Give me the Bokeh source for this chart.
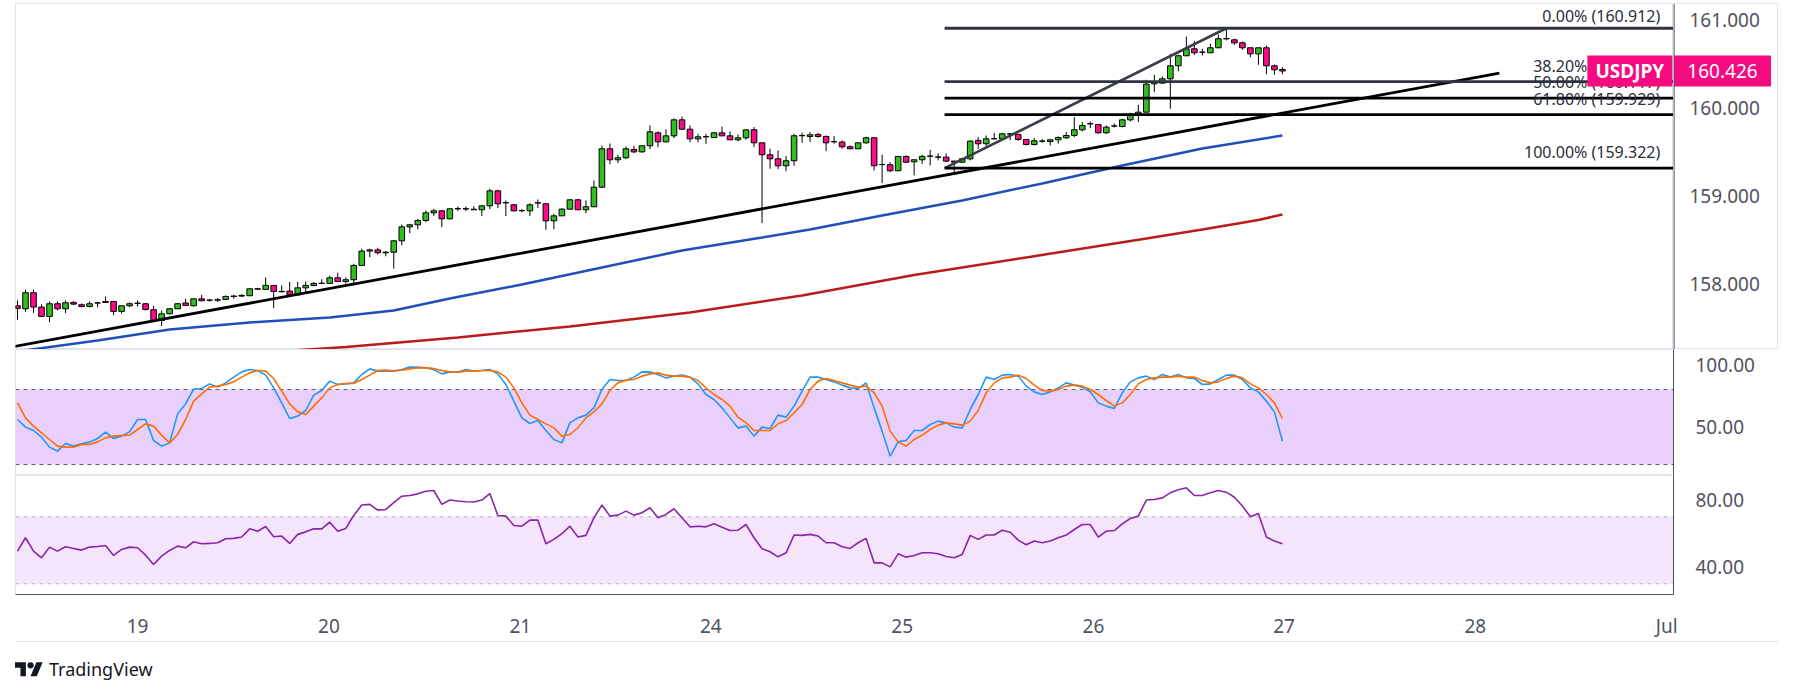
import numpy as np
from bokeh.plotting import figure
from bokeh.models import (Range1d, FixedTicker, NumeralTickFormatter, BoxAnnotation,
                          Span, Div, ColumnDataSource)
from bokeh.layouts import column, row
from bokeh.embed import file_html
from bokeh.resources import INLINE
from bokeh.core.properties import value

FONT = "Noto Sans"

# ---------------- data (hourly bars, USDJPY) ----------------
opens = [157.758, 157.724, 157.906, 157.743, 157.637, 157.781, 157.724, 157.796, 157.770, 157.750,
         157.790, 157.807, 157.807, 157.694, 157.758, 157.785, 157.781, 157.713, 157.591, 157.667,
         157.724, 157.789, 157.758, 157.837, 157.822, 157.822, 157.830, 157.864, 157.868, 157.872,
         157.951, 157.944, 157.989, 157.921, 157.925, 157.883, 157.962, 157.989, 158.012, 158.012,
         158.076, 158.034, 158.054, 158.216, 158.380, 158.393, 158.360, 158.367, 158.496, 158.655,
         158.678, 158.727, 158.814, 158.837, 158.746, 158.860, 158.860, 158.855, 158.849, 158.894,
         159.064, 158.930, 158.905, 158.840, 158.837, 158.928, 158.917, 158.723, 158.780, 158.856,
         158.962, 158.849, 158.883, 159.106, 159.542, 159.417, 159.440, 159.534, 159.507, 159.576,
         159.723, 159.621, 159.689, 159.871, 159.765, 159.655, 159.678, 159.670, 159.723, 159.689,
         159.644, 159.667, 159.758, 159.610, 159.474, 159.428, 159.349, 159.406, 159.690, 159.682,
         159.705, 159.682, 159.622, 159.618, 159.565, 159.542, 159.610, 159.667, 159.364, 159.360,
         159.292, 159.455, 159.394, 159.417, 159.458, 159.447, 159.447, 159.402, 159.390, 159.428,
         159.637, 159.599, 159.655, 159.655, 159.712, 159.705, 159.648, 159.591, 159.630, 159.625,
         159.644, 159.667, 159.693, 159.758, 159.826, 159.818, 159.724, 159.800, 159.795, 159.871,
         159.928, 159.958, 160.280, 160.288, 160.337, 160.485, 160.599, 160.678, 160.640, 160.633,
         160.690, 160.792, 160.780, 160.746, 160.690, 160.621, 160.690, 160.485, 160.443]
highs = [157.818, 157.940, 157.940, 157.773, 157.807, 157.807, 157.818, 157.810, 157.784, 157.807,
         157.800, 157.864, 157.810, 157.760, 157.796, 157.818, 157.790, 157.758, 157.705, 157.730,
         157.790, 157.837, 157.840, 157.883, 157.830, 157.845, 157.875, 157.883, 157.890, 157.955,
         157.960, 158.080, 157.995, 157.990, 158.030, 158.030, 158.035, 158.027, 158.060, 158.100,
         158.133, 158.080, 158.235, 158.406, 158.406, 158.417, 158.380, 158.500, 158.682, 158.689,
         158.746, 158.841, 158.860, 158.848, 158.864, 158.886, 158.886, 158.890, 158.898, 159.087,
         159.076, 158.955, 158.917, 158.856, 158.924, 158.966, 158.917, 158.803, 158.867, 158.970,
         158.973, 158.955, 159.182, 159.579, 159.602, 159.473, 159.568, 159.576, 159.580, 159.807,
         159.739, 159.761, 159.886, 159.909, 159.807, 159.712, 159.712, 159.735, 159.795, 159.739,
         159.705, 159.760, 159.788, 159.610, 159.542, 159.523, 159.459, 159.709, 159.724, 159.731,
         159.724, 159.693, 159.686, 159.636, 159.580, 159.613, 159.678, 159.667, 159.474, 159.390,
         159.455, 159.466, 159.417, 159.474, 159.530, 159.490, 159.490, 159.405, 159.436, 159.637,
         159.674, 159.693, 159.724, 159.724, 159.720, 159.712, 159.648, 159.663, 159.652, 159.648,
         159.682, 159.731, 159.902, 159.845, 159.852, 159.818, 159.807, 159.830, 159.883, 159.951,
         160.042, 160.326, 160.383, 160.364, 160.621, 160.610, 160.818, 160.769, 160.678, 160.735,
         160.841, 160.905, 160.792, 160.761, 160.690, 160.690, 160.716, 160.500, 160.470]
lows = [157.599, 157.690, 157.678, 157.630, 157.572, 157.705, 157.675, 157.765, 157.740, 157.740,
        157.740, 157.790, 157.652, 157.667, 157.743, 157.750, 157.705, 157.580, 157.527, 157.660,
        157.720, 157.755, 157.750, 157.810, 157.805, 157.800, 157.825, 157.837, 157.860, 157.868,
        157.940, 157.940, 157.731, 157.910, 157.880, 157.875, 157.914, 157.985, 158.008, 158.010,
        158.030, 158.010, 157.990, 158.210, 158.310, 158.340, 158.320, 158.180, 158.443, 158.583,
        158.625, 158.708, 158.777, 158.652, 158.740, 158.833, 158.833, 158.849, 158.777, 158.856,
        158.867, 158.777, 158.830, 158.820, 158.777, 158.867, 158.621, 158.629, 158.780, 158.852,
        158.845, 158.810, 158.880, 159.095, 159.367, 159.379, 159.424, 159.492, 159.500, 159.538,
        159.560, 159.615, 159.663, 159.757, 159.617, 159.617, 159.598, 159.667, 159.685, 159.640,
        159.628, 159.644, 159.561, 158.697, 159.315, 159.311, 159.288, 159.349, 159.610, 159.617,
        159.667, 159.515, 159.600, 159.542, 159.542, 159.540, 159.600, 159.296, 159.152, 159.277,
        159.288, 159.379, 159.239, 159.371, 159.353, 159.410, 159.390, 159.258, 159.380, 159.410,
        159.542, 159.561, 159.650, 159.655, 159.640, 159.633, 159.580, 159.580, 159.610, 159.580,
        159.600, 159.655, 159.674, 159.739, 159.777, 159.712, 159.712, 159.784, 159.784, 159.852,
        159.845, 159.955, 160.186, 160.285, 159.996, 160.424, 160.595, 160.610, 160.602, 160.630,
        160.685, 160.773, 160.723, 160.667, 160.583, 160.496, 160.390, 160.383, 160.390]
closes = [157.728, 157.906, 157.743, 157.637, 157.781, 157.724, 157.792, 157.777, 157.750, 157.781,
          157.790, 157.796, 157.694, 157.758, 157.781, 157.787, 157.716, 157.591, 157.667, 157.724,
          157.781, 157.762, 157.837, 157.815, 157.822, 157.826, 157.864, 157.868, 157.875, 157.951,
          157.947, 157.989, 157.921, 157.917, 157.883, 157.962, 157.989, 158.012, 158.014, 158.076,
          158.034, 158.054, 158.216, 158.379, 158.393, 158.360, 158.367, 158.496, 158.655, 158.678,
          158.727, 158.814, 158.837, 158.746, 158.860, 158.862, 158.858, 158.849, 158.894, 159.064,
          158.917, 158.928, 158.837, 158.838, 158.905, 158.926, 158.723, 158.780, 158.856, 158.962,
          158.849, 158.883, 159.106, 159.542, 159.417, 159.440, 159.542, 159.507, 159.576, 159.735,
          159.621, 159.689, 159.871, 159.765, 159.655, 159.678, 159.680, 159.723, 159.689, 159.644,
          159.667, 159.757, 159.610, 159.474, 159.428, 159.349, 159.406, 159.690, 159.693, 159.701,
          159.682, 159.610, 159.622, 159.565, 159.542, 159.610, 159.667, 159.349, 159.362, 159.292,
          159.455, 159.390, 159.417, 159.455, 159.459, 159.449, 159.402, 159.390, 159.428, 159.629,
          159.599, 159.655, 159.657, 159.712, 159.710, 159.648, 159.591, 159.633, 159.628, 159.644,
          159.670, 159.693, 159.758, 159.807, 159.826, 159.724, 159.788, 159.802, 159.871, 159.932,
          159.958, 160.277, 160.296, 160.337, 160.485, 160.599, 160.678, 160.633, 160.640, 160.690,
          160.792, 160.794, 160.746, 160.690, 160.621, 160.690, 160.485, 160.440, 160.426]

stoch_k = [56, 49.9, 47.2, 41.9, 33.9, 30.7, 36.8, 34.7, 36.5, 37.9,
           40.8, 45.9, 40.8, 42.7, 46.1, 56, 56, 39.2, 34.7, 37.3,
           60.5, 68.5, 80.3, 80.8, 84.5, 81.9, 85.3, 89.9, 94.1, 96,
           95.2, 91.5, 81.3, 69.3, 56.8, 58.7, 63.2, 75.5, 79.2, 86.7,
           84, 84.5, 85.3, 92, 96.5, 94.7, 94.7, 94.7, 96, 97.9,
           97.9, 97.3, 96, 92.5, 94.1, 93.9, 96, 94.7, 95.2, 96,
           92.5, 84, 70.7, 57.3, 52.8, 55.2, 47.2, 40, 37.3, 53.3,
           57.3, 59.5, 65.3, 80, 88, 87.2, 87.2, 89.9, 94.1, 93.9,
           92, 89.3, 90.7, 91.5, 89.9, 84.5, 76, 72, 65.3, 57.3,
           49.3, 50.7, 42.7, 49.9, 48.8, 59.5, 57.9, 66.7, 78.7, 89.9,
           89.9, 88, 86.1, 83.5, 81.3, 80.8, 85.3, 65.3, 46.7, 26.7,
           38.1, 39.2, 47.2, 47.2, 52, 54.7, 53.3, 49.9, 49.3, 64,
           76, 89.9, 88, 91.5, 92, 90.7, 82.7, 78.1, 76, 78.1,
           81.3, 85.3, 83.5, 81.9, 78.1, 69.3, 66.7, 64.8, 77.3, 86.1,
           89.3, 90.7, 88, 92, 89.9, 92, 89.3, 88.8, 84, 84.5,
           88, 91.5, 91.5, 88, 81.3, 78.1, 70.7, 62.1, 38.7]
stoch_d = [69.3, 57.3, 50.7, 45.3, 40, 34.7, 33.9, 33.9, 36, 36,
           38.1, 41.3, 42.7, 43.2, 43.5, 48, 52.5, 50.7, 43.5, 37.3,
           44, 56, 70.7, 76.5, 81.9, 82.7, 84, 86.1, 89.9, 93.3,
           95.2, 94.7, 88.8, 78.7, 68.5, 62.1, 60, 66.7, 73.3, 81.3,
           84, 84.8, 84.8, 88, 91.5, 95.2, 95.5, 94.9, 95.5, 96.5,
           97.3, 97.3, 96.8, 95.2, 94.1, 93.9, 94.7, 94.7, 95.2, 95.2,
           94.1, 89.9, 81.3, 69.3, 59.5, 56, 52.5, 49.3, 42.7, 44,
           49.3, 57.3, 62.1, 68.5, 79.2, 85.3, 87.5, 88, 90.7, 92.5,
           93.3, 91.5, 90.7, 90.7, 89.9, 87.2, 81.3, 76, 72, 66.7,
           57.9, 53.3, 47.2, 47.2, 47.2, 52.5, 55.2, 61.3, 68, 80,
           86.7, 88.8, 87.2, 85.3, 83.5, 81.9, 82.7, 77.3, 66.7, 46.7,
           38.1, 34.7, 40, 43.5, 48, 51.5, 53.3, 52.5, 51.5, 54.7,
           63.2, 77.3, 85.3, 89.3, 89.9, 91.5, 88.8, 83.5, 79.2, 78.7,
           80, 82.7, 83.5, 82.7, 80, 76, 71.2, 66.7, 69.3, 76,
           84.5, 88, 89.3, 89.9, 89.9, 90.7, 89.9, 89.9, 87.2, 85.3,
           86.1, 88.8, 90.7, 89.3, 84.5, 81.3, 76, 69.3, 56.8]
rsi = [49.5, 57.5, 49.5, 45.5, 51.9, 49.5, 52.1, 51.1, 50.1, 51.9,
       52.3, 52.9, 46.9, 50.5, 51.9, 51.5, 47.1, 41.5, 46.5, 49.9,
       52.5, 51.5, 55.1, 53.9, 54.1, 54.5, 56.9, 57.1, 57.9, 62.8,
       61.4, 64.2, 58.1, 58.5, 54.1, 59.5, 61, 62.8, 62.8, 66.8,
       61.4, 63, 70.8, 77, 77.4, 74, 74.4, 78.4, 82.3, 82.7,
       83.7, 85.3, 85.7, 77.4, 80, 79.4, 79, 78.8, 80, 83.9,
       70.8, 70.4, 64.8, 64.4, 68, 68, 53.9, 56.5, 59.9, 64.4,
       57.9, 58.9, 69.4, 77, 70.4, 71, 73.4, 71, 72.4, 75.4,
       69.4, 71.4, 74.8, 69.4, 64, 64.4, 64, 65.8, 63.8, 61.8,
       62, 65.4, 57.5, 50.9, 49.1, 46.1, 48.5, 59.1, 58.9, 59.5,
       58.5, 54.5, 54.5, 52.1, 51.1, 54.5, 57.1, 42.5, 42.5, 40.1,
       47.9, 45.9, 46.9, 48.5, 48.5, 47.9, 46.3, 45.5, 47.5, 58.9,
       56.5, 59.1, 59.1, 62, 60.8, 56.1, 53.3, 55.5, 54.5, 55.5,
       57.5, 59.1, 62.4, 65.4, 65.4, 57.9, 61.4, 61.8, 65.8, 69,
       70.4, 80, 80.3, 81.3, 84.3, 86.1, 87.3, 82.7, 82.7, 84.3,
       85.7, 84.7, 81.7, 76.4, 70, 72, 57.9, 55.5, 53.9]

# moving averages, read at sampled bars
ma_blue_x = [0, 10, 19, 29, 39, 47, 54, 63, 73, 83, 93, 99, 108, 118, 128, 138, 148, 158]
ma_blue_y = [157.239, 157.364, 157.489, 157.568, 157.625, 157.705, 157.841, 158.0, 158.193,
             158.386, 158.534, 158.625, 158.784, 158.955, 159.148, 159.352, 159.545, 159.693]
ma_red_x = [20, 27, 41, 55, 69, 84, 98, 112, 126, 141, 148, 155, 158]
ma_red_y = [157.16, 157.205, 157.29, 157.398, 157.523, 157.682, 157.875, 158.108,
            158.307, 158.523, 158.625, 158.733, 158.795]

# drawings
trend_x = [-0.4, 185.1]
trend_y = [157.295, 160.401]
fib_low_x, fib_high_x = 115.8, 151.0
fib_low, fib_high = 159.322, 160.912
fib_ratios = [0.0, 0.382, 0.5, 0.618, 1.0]

day_ticks = [15, 38.9, 62.8, 86.6, 110.5, 134.4, 158.2, 182.1, 206.0]
day_labels = ["19", "20", "21", "24", "25", "26", "27", "28", "Jul"]
price_ticks = [158, 159, 160, 161]
stoch_ticks = [50, 100]
rsi_ticks = [40, 80]
symbol = "USDJPY"

# ---------------- styling ----------------
GREEN = "#33bd22"
PINK = "#ff0a85"
LABEL_PINK = "#f50a7f"
AXIS_TXT = "#50535e"
BORDER = "#e0e3eb"
LEFT = 15

x_range = Range1d(-0.25, 206.85)


def style_yaxis(ax, ticks, fmt):
    ax.ticker = FixedTicker(ticks=ticks)
    ax.formatter = NumeralTickFormatter(format=fmt)
    ax.axis_line_color = AXIS_TXT
    ax.major_tick_line_color = None
    ax.minor_tick_line_color = None
    ax.major_label_standoff = 16
    ax.major_label_text_font = FONT
    ax.major_label_text_font_size = "19px"
    ax.major_label_text_color = AXIS_TXT


def make_fig(fh, y0, y1, ticks, fmt, bottom=0, xaxis=False):
    p = figure(frame_width=1658, frame_height=fh, x_range=x_range, y_range=Range1d(y0, y1),
               output_backend="svg", toolbar_location=None, tools="",
               x_axis_location="below" if xaxis else None, y_axis_location="right",
               min_border_left=LEFT, min_border_right=105, min_border_top=0,
               min_border_bottom=bottom, background_fill_color="white",
               border_fill_color="white", outline_line_color=BORDER)
    p.grid.visible = False
    style_yaxis(p.yaxis[0], ticks, fmt)
    return p


# ---------------- main price panel ----------------
p1 = figure(frame_width=1658, frame_height=346, x_range=x_range, y_range=Range1d(157.261, 161.193),
            output_backend="svg", toolbar_location=None, tools="",
            x_axis_location=None, y_axis_location=None,
            min_border_left=LEFT, min_border_right=0, min_border_top=3, min_border_bottom=0,
            background_fill_color="white", border_fill_color="white", outline_line_color=BORDER)
p1.grid.visible = False

# price scale pane (right of the main pane, shares the price range)
p1r = figure(frame_width=105, frame_height=346, x_range=Range1d(0, 105), y_range=p1.y_range,
             output_backend="svg", toolbar_location=None, tools="",
             x_axis_location=None, y_axis_location=None,
             min_border_left=0, min_border_right=0, min_border_top=3, min_border_bottom=0,
             background_fill_color="white", border_fill_color="white", outline_line_color=BORDER)
p1r.grid.visible = False

idx = np.arange(len(closes))
o = np.array(opens); c = np.array(closes)
src = ColumnDataSource(dict(
    x=idx, high=highs, low=lows,
    top=np.maximum(o, c), bottom=np.minimum(o, c),
    color=[GREEN if cc >= oo else PINK for oo, cc in zip(opens, closes)]))

p1.line(ma_blue_x, ma_blue_y, line_color="#1f4fb8", line_width=2.5)
p1.line(ma_red_x, ma_red_y, line_color="#bb1b1b", line_width=2.5)

p1.segment(x0="x", y0="high", x1="x", y1="low", source=src, line_color="black", line_width=1)
p1.vbar(x="x", top="top", bottom="bottom", width=0.7, source=src,
        fill_color="color", line_color="black", line_width=1)

# trend line and fib drawing
p1.line(trend_x, trend_y, line_color="black", line_width=2.8)
p1.line([fib_low_x, fib_high_x], [fib_low, fib_high], line_color="#3a3e49", line_width=2.6)

fib_prices = [fib_high - r * (fib_high - fib_low) for r in fib_ratios]
fib_colors = ["#30343f", "#30343f", "#000000", "#000000", "#000000"]
p1.segment(x0=[fib_low_x] * len(fib_prices), y0=fib_prices,
           x1=[230] * len(fib_prices), y1=fib_prices,
           line_color=fib_colors, line_width=2.8)
fib_texts = [f"{r*100:.2f}% ({pr:.3f})" for r, pr in zip(fib_ratios, fib_prices)]
FIB_X = 205.2
p1.text(x=[FIB_X], y=fib_prices[:1], text=fib_texts[:1], text_align="right",
        text_baseline="alphabetic", y_offset=-12, text_font=value(FONT),
        text_font_size="16px", text_color="#2a2e39")
p1.text(x=[FIB_X] * 4, y=fib_prices[1:], text=fib_texts[1:], text_align="right",
        text_baseline="alphabetic", y_offset=-16, text_font=value(FONT),
        text_font_size="16px", text_color="#2a2e39")

last = closes[-1]
# symbol tag at the last price (inside the pane, right edge)
p1.rect(x=[201.4], y=[last], width=85, height=31, width_units="screen", height_units="screen",
        fill_color=LABEL_PINK, line_color=None)
p1.text(x=[201.4], y=[last], text=[symbol], text_align="center", text_baseline="middle",
        text_font=value(FONT), text_font_size="19px", text_font_style="bold", text_color="white")

# price scale: axis line, tick labels, last price tag
p1r.add_layout(Span(location=0.5, dimension="height", line_color=AXIS_TXT, line_width=1.2))
p1r.text(x=[16] * len(price_ticks), y=price_ticks, text=[f"{t:.3f}" for t in price_ticks],
         text_align="left", text_baseline="middle", text_font=value(FONT),
         text_font_size="19px", text_color=AXIS_TXT)
p1r.rect(x=[49], y=[last], width=97, height=31, width_units="screen", height_units="screen",
         fill_color=LABEL_PINK, line_color=None)
p1r.text(x=[49], y=[last], text=[f"{last:.3f}"], text_align="center", text_baseline="middle",
         text_font=value(FONT), text_font_size="19px", text_color="white")

# ---------------- stochastic RSI panel ----------------
p2 = make_fig(126, 11.2, 112, stoch_ticks, "0.00")
p2.add_layout(BoxAnnotation(bottom=20, top=80, fill_color="#e9d0fc", fill_alpha=1.0,
                            line_color=None, level="underlay"))
for lv in (20, 80):
    p2.add_layout(Span(location=lv, dimension="width", line_color="#5d606b",
                       line_dash="4 4", line_width=1, level="underlay"))
p2.line(idx, stoch_k, line_color="#2196f3", line_width=1.6)
p2.line(idx, stoch_d, line_color="#ff6d00", line_width=1.6)

# ---------------- RSI panel ----------------
p3 = make_fig(119, 23.6, 94.66, rsi_ticks, "0.00", bottom=47, xaxis=True)
p3.add_layout(BoxAnnotation(bottom=30, top=70, fill_color="#f4e5fd", fill_alpha=1.0,
                            line_color=None, level="underlay"))
for lv in (30, 70):
    p3.add_layout(Span(location=lv, dimension="width", line_color="#b2b5be",
                       line_dash="4 4", line_width=1, level="underlay"))
p3.line(idx, rsi, line_color="#8b24a8", line_width=1.6)

xa = p3.xaxis[0]
xa.ticker = FixedTicker(ticks=day_ticks)
xa.major_label_overrides = {t: l for t, l in zip(day_ticks, day_labels)}
xa.axis_line_color = AXIS_TXT
xa.major_tick_line_color = None
xa.minor_tick_line_color = None
xa.major_label_standoff = 12
xa.major_label_text_font = FONT
xa.major_label_text_font_size = "19px"
xa.major_label_text_color = AXIS_TXT

# ---------------- footer logo ----------------
logo_svg = ('<svg width="28" height="22" viewBox="0 0 36 28">'
            '<path d="M14 22H7V11H0V4h14v18z" fill="#131722"/>'
            '<path d="M28 22h-8l7.5-18h8L28 22z" fill="#131722"/>'
            '<circle cx="20" cy="8" r="4" fill="#131722"/></svg>')
footer = Div(text=(f'<div style="margin-left:{LEFT}px;width:1763px;border-top:1px solid {BORDER};"></div>'
                   f'<div style="display:flex;align-items:center;margin-left:{LEFT}px;margin-top:15px;">'
                   f'{logo_svg}<span style="font-family:\'Noto Sans\';font-size:18px;color:#131722;'
                   'margin-left:6px;">TradingView</span></div>'),
             width=1778, height=48, margin=0)

layout = column(row(p1, p1r, spacing=0), p2, p3, footer, spacing=0)
open("out.html", "w").write(file_html(layout, INLINE))
